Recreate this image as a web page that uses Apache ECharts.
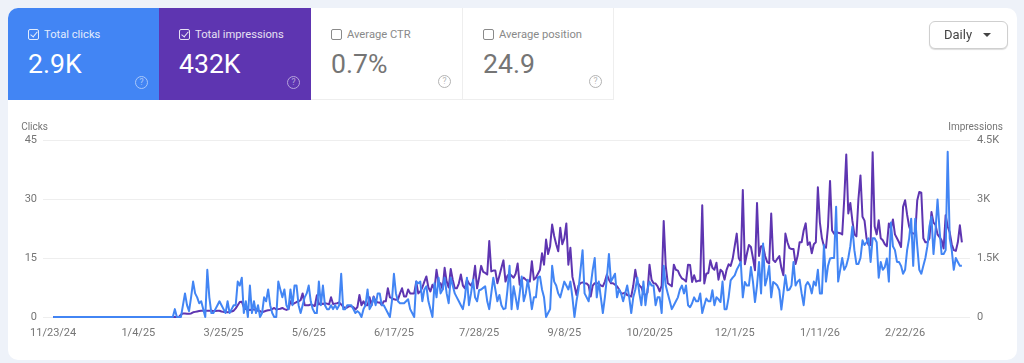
<!DOCTYPE html>
<html>
<head>
<meta charset="utf-8">
<script src="https://cdn.jsdelivr.net/npm/echarts@6/dist/echarts.min.js"></script>
<style>
html,body{margin:0;padding:0;width:1024px;height:363px;overflow:hidden;background:#eef2f9;font-family:Roboto,sans-serif;}
.card{position:absolute;left:8px;top:8px;width:1009px;height:352px;background:#fff;border-radius:10px;}
#chart{position:absolute;left:0;top:0;width:1024px;height:363px;}
.tile{position:absolute;top:8px;height:92px;box-sizing:border-box;color:#fff;}
.tile .name{position:absolute;left:36px;top:20px;font-size:11.2px;line-height:14px;white-space:nowrap;opacity:.85;}
.tile .num{position:absolute;left:20px;top:39px;font-size:26.6px;line-height:34px;}
.tile .box{position:absolute;left:20px;top:21px;width:9px;height:9px;border:1px solid currentColor;border-radius:2px;opacity:.85;}
.tile .box.on::after{content:'';position:absolute;left:3px;top:0px;width:3px;height:6px;border-right:1px solid currentColor;border-bottom:1px solid currentColor;transform:rotate(40deg);}
.tile .q{position:absolute;right:11px;bottom:11px;width:11px;height:11px;border:1px solid currentColor;border-radius:50%;font-size:8.5px;line-height:11px;text-align:center;opacity:.55;}
.off{background:#fff;color:#757575;border-right:1px solid #eeeeee;border-bottom:1px solid #eeeeee;}
.daily{position:absolute;left:929px;top:21px;width:77px;height:26px;border:1px solid #cfcfcf;border-radius:6px;background:#fff;font-size:13px;line-height:26px;color:#444;box-shadow:0 1px 1px #ddd;}
.daily span{position:absolute;left:14px;}
.daily i{position:absolute;left:53px;top:11px;width:0;height:0;border-left:4px solid transparent;border-right:4px solid transparent;border-top:4px solid #444;}
</style>
</head>
<body>
<div class="card"></div>
<div id="chart"></div>
<div class="tile" style="left:8px;width:151px;background:#4285f4;border-top-left-radius:10px;">
    <div class="box on"></div><div class="name">Total clicks</div><div class="num">2.9K</div><div class="q">?</div>
</div>
<div class="tile" style="left:159px;width:152px;background:#5e35b1;">
    <div class="box on"></div><div class="name">Total impressions</div><div class="num">432K</div><div class="q">?</div>
</div>
<div class="tile off" style="left:311px;width:152px;">
    <div class="box"></div><div class="name">Average CTR</div><div class="num">0.7%</div><div class="q">?</div>
</div>
<div class="tile off" style="left:463px;width:151px;">
    <div class="box"></div><div class="name">Average position</div><div class="num">24.9</div><div class="q">?</div>
</div>
<div class="daily"><span>Daily</span><i></i></div>
<script>
// tick labels, one every 42 days
var tickLabels = ['11/23/24','1/4/25','3/25/25','5/6/25','6/17/25','7/28/25','9/8/25','10/20/25','12/1/25','1/11/26','2/22/26'];
var tickStep = 42;
var clickTicks = [0,15,30,45];

// daily clicks, ten values a row
var clicks = [
    0,0,0,0,0,0,0,0,0,0,
    0,0,0,0,0,0,0,0,0,0,
    0,0,0,0,0,0,0,0,0,0,
    0,0,0,0,0,0,0,0,0,0,
    0,0,0,0,0,0,0,0,0,0,
    0,0,0,0,0,0,0,0,0,0,
    2,0,0,0,3,6,3,1.5,5,9,
    6,5,3.5,4,2,0,12,5,1,1,
    2,3,4,3,2,1,4,1,2,3,
    3,9,8,10,1,4,0,8,1,4,
    1,3,0,1,5,4,7,3,1,0,
    0,9,7,5,7,3,2,7,3,8,
    8,3,1,3,5,6,8,4,2,1,
    1,9,3,8,3,2,2,3,2,3,
    2,3,11,2,2,3,3,3,2,1,
    1.5,1,0,2,3,7,2,3,5,3,
    6,6,3,3,2,1,0,4,11,6,
    4,3.5,3.5,3.5,4,4.5,2,1,0,9,
    8.6,9,4,7,7.8,4,2,0,8.6,5,
    10,6,7,10,6,3.5,10,8,6,5,
    4,3,2,5,10,3,6,9.5,5,4,
    6.8,7,7.4,7.8,4,2,6,10,7,4,
    5.6,3,2,2.2,7,13,2,7.8,5,2,
    6,10.3,4,6,9.5,6,2,5,5,10,
    10.3,7,5,0,1,2,13,9,8,6,
    5,7,9,8,7,9,5,0,4,7,
    12,17,6,5,4,8,12,15,5,9,
    5,1,5,10,16,9,10,11,5,7,
    6,4,6,8,5,1,5,7,10,6,
    3,9,3,7,9,8,8,3,5,5,
    1,13,8,6,4,2,3,4,5,7,
    8,6,8,3,2.5,3.5,5,4,4,6,
    1,3,4.7,4,4,6.8,3,5,4.5,3.8,
    9,2,2,5,9.3,10,10.6,12,13,14,
    5,8.9,8,8,12.7,9,3.8,8,14,6,
    18.7,8,10,13,5,8.9,8.5,8,6.8,1.9,
    6,10.6,6.8,7,8,14,8,9,9.5,6,
    3,8,8.9,8,6,9,8,12,6,6,
    18.3,9,13,14.9,15,15,28,9,12,15,
    12,13,15,18,23,17,13.5,13.5,15,19.5,
    18.3,19,20,14,20,20,19,10,14,12,
    12.7,14.9,9,24,18,17,14,14,13,11,
    12,17,20,25,13,25,18,12,11,13,
    15,18,23,25.5,16,22,29.9,22,16,16,
    17,42,20,17,12,15,14,13,13
];

// daily impressions, ten values a row
var impressions = [
    0,0,0,0,0,0,0,0,0,0,
    0,0,0,0,0,0,0,0,0,0,
    0,0,0,0,0,0,0,0,0,0,
    0,0,0,0,0,0,0,0,0,0,
    0,0,0,0,0,0,0,0,0,0,
    0,0,0,0,0,0,0,0,0,0,
    0,0,0,60,90,90,80,80,90,120,
    130,140,150,160,160,160,160,160,160,150,
    150,160,160,140,130,130,120,130,140,160,
    220,300,380,390,250,200,190,180,190,190,
    180,160,150,120,140,160,170,180,200,230,
    190,200,210,230,200,180,200,400,320,350,
    380,400,430,600,300,300,300,320,300,280,
    550,320,350,330,350,340,320,500,330,340,
    350,370,320,260,230,240,280,270,250,190,
    250,560,300,400,300,300,500,300,520,400,
    370,370,300,400,400,730,500,480,450,440,
    450,600,730,520,520,700,600,600,600,900,
    600,650,750,900,1030,750,650,820,700,1200,
    860,860,700,1250,900,750,1220,950,730,730,
    850,1080,800,730,950,850,800,900,1300,730,
    1000,1300,1150,1120,1080,1930,1160,1180,1180,860,
    1050,1250,1440,900,1050,1100,1050,1000,1100,1360,
    820,950,1000,950,900,900,1420,950,1000,1100,
    1200,1620,1330,1970,1600,1800,2350,2060,1850,1670,
    2270,1850,2000,2380,1330,1760,1020,800,560,800,
    860,880,860,850,800,520,800,860,860,850,
    800,780,900,1080,950,860,860,820,780,700,
    600,600,620,560,540,520,800,1200,900,800,
    750,600,550,620,1330,950,860,850,780,650,
    800,2440,1300,860,820,780,1330,1200,1180,1060,
    980,950,900,1330,1320,890,1060,900,920,920,
    2840,850,1100,1120,1440,1250,1200,1380,950,1200,
    1150,950,1200,1340,1300,1480,1800,2120,1500,1400,
    3230,1340,1600,1830,1780,1500,1190,2900,1550,1800,
    1800,1550,1400,1360,2630,1450,1400,1480,1550,1250,
    1060,2120,1900,1750,1730,1730,1350,1550,1900,1900,
    2200,2380,1830,1900,1620,1850,1900,3300,2400,2000,
    1800,1760,2300,3460,2200,2120,2160,2140,2130,2100,
    3000,4130,2630,2900,2450,2100,2050,3000,3600,2550,
    2450,2000,1830,1830,4190,2300,2100,2460,2000,1950,
    1850,1800,2380,2250,2480,2100,2000,1900,1780,2800,
    2970,2600,2300,2150,2120,2120,2970,3180,3160,2000,
    1900,1900,2000,2670,2400,2340,2100,2030,1950,1740,
    2590,2300,2150,1850,1700,1680,1900,2330,1900
];

var myChart = echarts.init(document.getElementById('chart'));
var greyText = '#757575';
var tickPos = tickLabels.map(function(t, i){ return i * tickStep; });

var option = {
    animation: false,
    textStyle: { fontFamily: 'Roboto' },
    grid: { left: 43, right: 54, top: 140, height: 177, containLabel: false },
    xAxis: {
        type: 'value',
        min: -5,
        max: 452,
        splitLine: { show: false },
        axisLine: { show: false },
        axisTick: { show: false },
        axisLabel: {
            customValues: tickPos,
            color: greyText,
            fontSize: 11,
            margin: 11,
            hideOverlap: false,
            formatter: function(v){ return tickLabels[Math.round(v / tickStep)]; }
        }
    },
    yAxis: [{
        type: 'value',
        min: 0,
        max: clickTicks[3],
        interval: clickTicks[1],
        name: 'Clicks',
        nameGap: 8,
        nameTextStyle: { color: greyText, fontSize: 10, align: 'left', padding: [0, 0, 0, -32] },
        axisLine: { show: false },
        axisTick: { show: false },
        axisLabel: { color: greyText, fontSize: 11, margin: 6 },
        splitLine: { lineStyle: { color: '#eeeeee', width: 1 } }
    }, {
        type: 'value',
        min: 0,
        max: 4500,
        interval: 1500,
        name: 'Impressions',
        nameGap: 8,
        nameTextStyle: { color: greyText, fontSize: 10, align: 'right', padding: [0, -33, 0, 0] },
        axisLine: { show: false },
        axisTick: { show: false },
        splitLine: { show: false },
        axisLabel: {
            color: greyText,
            fontSize: 11,
            margin: 7,
            formatter: function(v){ return v === 0 ? '0' : (v / 1000) + 'K'; }
        }
    }],
    series: [{
        name: 'Total impressions',
        type: 'line',
        yAxisIndex: 1,
        showSymbol: false,
        lineStyle: { color: '#5e35b1', width: 2, join: 'round' },
        itemStyle: { color: '#5e35b1' },
        data: impressions.map(function(v, i){ return [i, v]; })
    }, {
        name: 'Total clicks',
        type: 'line',
        yAxisIndex: 0,
        showSymbol: false,
        lineStyle: { color: '#4285f4', width: 2, join: 'round' },
        itemStyle: { color: '#4285f4' },
        data: clicks.map(function(v, i){ return [i, v]; })
    }]
};
myChart.setOption(option);
</script>
</body>
</html>
